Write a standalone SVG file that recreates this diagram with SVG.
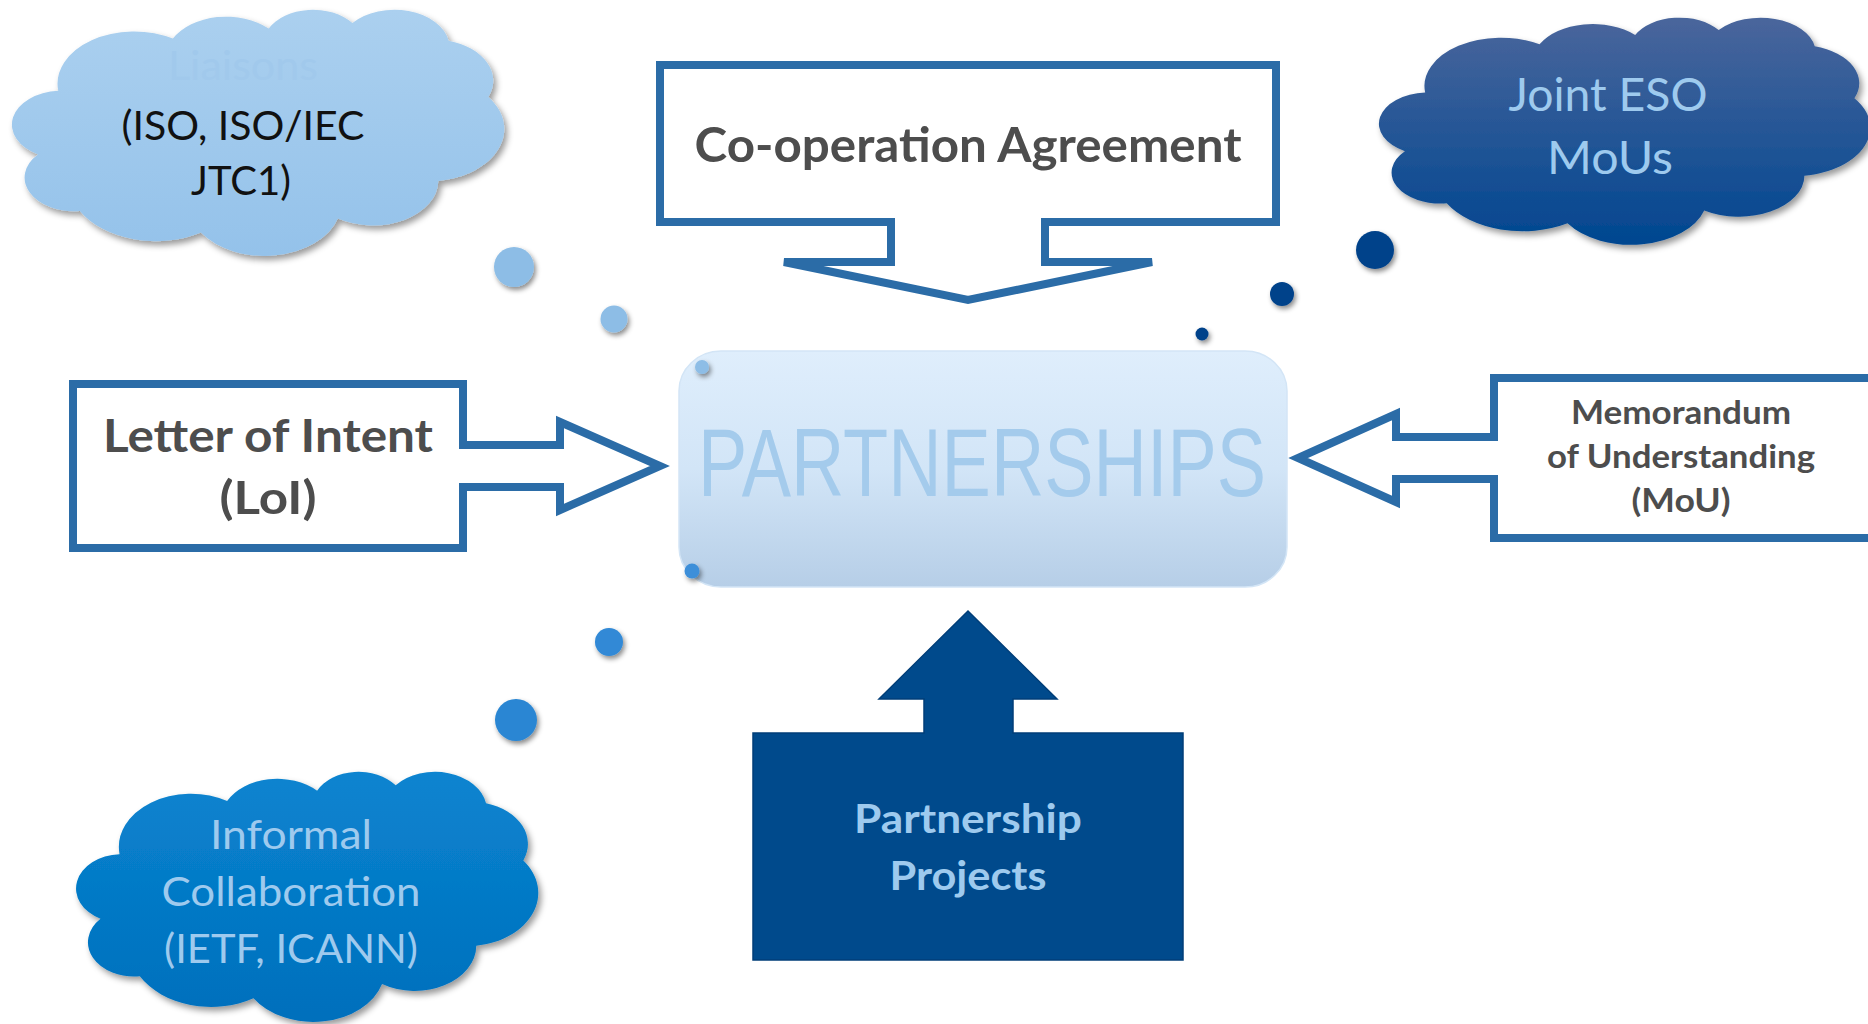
<svg xmlns="http://www.w3.org/2000/svg" width="1868" height="1024" viewBox="0 0 1868 1024">
<defs>
<style>
.t{font-family:Lato,"Open Sans","Liberation Sans",sans-serif;text-anchor:middle}
.b{font-weight:700}
.callout{fill:#ffffff;stroke:#2b6ca7;stroke-width:8;stroke-linejoin:miter}
.dark{fill:#4d4d4d}
.pale{fill:#9ecaee}
</style>
<path id="cloud" d="M 9.03 33.26 A 15.63 21.27 0 0 1 32.42 12.04 A 12.34 16.82 0 0 1 51.98 7.94 A 10.10 13.76 0 0 1 69.06 5.74 A 11.24 15.27 0 0 1 88.70 12.90 A 12.34 16.84 0 0 1 96.81 35.78 A 15.68 21.34 0 0 1 86.59 69.91 A 13.39 18.21 0 0 1 66.10 85.21 A 15.63 21.33 0 0 1 38.15 90.89 A 17.87 24.41 0 0 1 13.44 82.10 A 10.09 13.70 0 0 1 4.89 59.13 A 10.06 13.76 0 0 1 9.03 33.26 Z"/>
<linearGradient id="gLia" x1="0" y1="0" x2="0" y2="1"><stop offset="0" stop-color="#abd0ef"/><stop offset="1" stop-color="#94c2ea"/></linearGradient>
<linearGradient id="gEso" x1="0" y1="0" x2="0" y2="1"><stop offset="0" stop-color="#4a669c"/><stop offset="1" stop-color="#004690"/></linearGradient>
<linearGradient id="gInf" x1="0" y1="0" x2="0" y2="1"><stop offset="0" stop-color="#0a84d0"/><stop offset="1" stop-color="#006fbc"/></linearGradient>
<linearGradient id="gPart" x1="0" y1="0" x2="0" y2="1"><stop offset="0" stop-color="#dfeefc"/><stop offset="0.5" stop-color="#d2e5f7"/><stop offset="1" stop-color="#b6cee7"/></linearGradient>
<filter id="sh" x="-20%" y="-20%" width="140%" height="150%"><feDropShadow dx="3" dy="4" stdDeviation="3" flood-color="#000000" flood-opacity="0.4"/></filter>
<filter id="shb" x="-100%" y="-100%" width="300%" height="300%"><feDropShadow dx="2" dy="3" stdDeviation="2.5" flood-color="#000000" flood-opacity="0.45"/></filter>
</defs>
<rect x="0" y="0" width="1868" height="1024" fill="#ffffff"/>

<g id="node-liaisons">
<g filter="url(#sh)"><use href="#cloud" fill="url(#gLia)" transform="translate(14,9) scale(4.9,2.46)"/></g>
<text class="t" x="243" y="80" font-size="41" fill="#a1c9ec" textLength="150" lengthAdjust="spacingAndGlyphs">Liaisons</text>
<text class="t" x="243" y="140" font-size="41" fill="#111111" textLength="243" lengthAdjust="spacingAndGlyphs">(ISO, ISO/IEC</text>
<text class="t" x="241" y="195" font-size="41" fill="#111111" textLength="100" lengthAdjust="spacingAndGlyphs">JTC1)</text>
</g>

<g id="node-jointeso">
<g filter="url(#sh)"><use href="#cloud" fill="url(#gEso)" transform="translate(1381,17) scale(4.89,2.27)"/></g>
<text class="t pale" x="1608" y="111" font-size="46" textLength="199" lengthAdjust="spacingAndGlyphs">Joint ESO</text>
<text class="t pale" x="1610" y="174" font-size="46" textLength="126" lengthAdjust="spacingAndGlyphs">MoUs</text>
</g>

<g id="node-informal">
<g filter="url(#sh)"><use href="#cloud" fill="url(#gInf)" transform="translate(78,771) scale(4.6,2.5)"/></g>
<text class="t pale" x="291" y="849" font-size="41" textLength="162" lengthAdjust="spacingAndGlyphs">Informal</text>
<text class="t pale" x="291" y="906" font-size="41" textLength="259" lengthAdjust="spacingAndGlyphs">Collaboration</text>
<text class="t pale" x="291" y="963" font-size="41" textLength="254" lengthAdjust="spacingAndGlyphs">(IETF, ICANN)</text>
</g>

<g id="node-coop">
<polygon class="callout" points="660,65 1276,65 1276,222 1045,222 1045,262 1152,262 968,300 784,262 891,262 891,222 660,222"/>
<text class="t b dark" x="968" y="162" font-size="47" textLength="547" lengthAdjust="spacingAndGlyphs">Co-operation Agreement</text>
</g>

<g id="node-loi">
<polygon class="callout" points="73,384 463,384 463,445 560,445 560,422 660,466 560,510 560,487 463,487 463,548 73,548"/>
<text class="t b dark" x="268" y="452" font-size="46" textLength="330" lengthAdjust="spacingAndGlyphs">Letter of Intent</text>
<text class="t b dark" x="268" y="514" font-size="46" textLength="97" lengthAdjust="spacingAndGlyphs">(LoI)</text>
</g>

<g id="node-mou">
<polygon class="callout" points="1880,378 1494,378 1494,437 1396,437 1396,414 1298,458 1396,502 1396,479 1494,479 1494,538 1880,538"/>
<text class="t b dark" x="1681" y="424" font-size="32" textLength="220" lengthAdjust="spacingAndGlyphs">Memorandum</text>
<text class="t b dark" x="1681" y="468" font-size="32" textLength="268" lengthAdjust="spacingAndGlyphs">of Understanding</text>
<text class="t b dark" x="1681" y="512" font-size="32" textLength="99" lengthAdjust="spacingAndGlyphs">(MoU)</text>
</g>

<g id="node-projects">
<polygon points="753,733 924,733 924,699 879,699 968,611 1057,699 1013,699 1013,733 1183,733 1183,960 753,960" fill="#004a8c" stroke="#003e78" stroke-width="1.5"/>
<text class="t b pale" x="968" y="833" font-size="41" textLength="228" lengthAdjust="spacingAndGlyphs">Partnership</text>
<text class="t b pale" x="968" y="890" font-size="41" textLength="157" lengthAdjust="spacingAndGlyphs">Projects</text>
</g>

<g id="node-partnerships">
<rect x="679" y="351" width="608" height="236" rx="42" ry="40" fill="url(#gPart)" stroke="#d3e5f6" stroke-width="1.5"/>
<text x="698" y="496" font-family="'Liberation Sans',Arial,sans-serif" font-size="97" fill="#a4cbec" textLength="568" lengthAdjust="spacingAndGlyphs">PARTNERSHIPS</text>
</g>

<g id="connectors" filter="url(#shb)">
<circle cx="514" cy="267" r="20" fill="#8dbde6"/>
<circle cx="614" cy="319" r="13.5" fill="#8dbde6"/>
<circle cx="702" cy="367" r="7" fill="#8dbde6"/>
<circle cx="1375" cy="250" r="19" fill="#00428a"/>
<circle cx="1282" cy="294" r="12" fill="#00428a"/>
<circle cx="1202" cy="334" r="6.5" fill="#00428a"/>
<circle cx="516" cy="720" r="21" fill="#2a86d3"/>
<circle cx="609" cy="642" r="14" fill="#3089d6"/>
<circle cx="692" cy="571" r="7.5" fill="#3d8fd9"/>
</g>
</svg>
